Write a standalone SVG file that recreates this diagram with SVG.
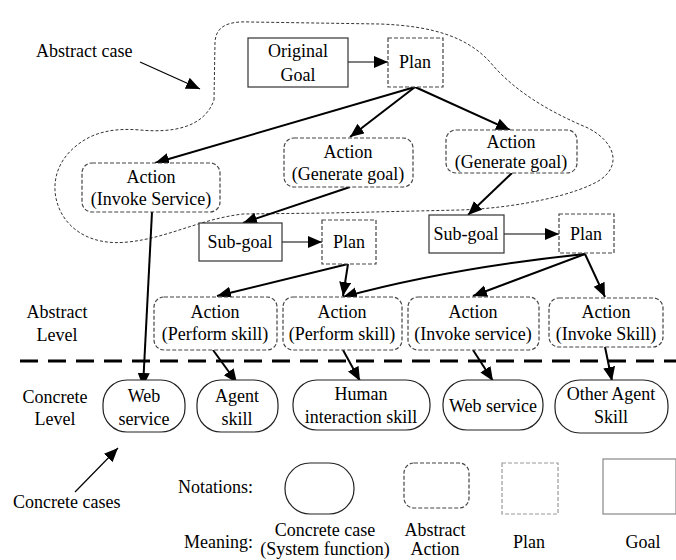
<svg xmlns="http://www.w3.org/2000/svg" width="676" height="560" viewBox="0 0 676 560" font-family="'Liberation Serif', 'DejaVu Serif', serif" font-size="18">
<defs>
<marker id="ah" markerUnits="userSpaceOnUse" markerWidth="15" markerHeight="13" refX="14" refY="6" orient="auto">
<path d="M0,0 L14,6 L0,12 Z" fill="#000"/>
</marker>
<style>
text{font-family:'Liberation Serif','DejaVu Serif',serif;font-size:18px;fill:#000;text-anchor:middle}
.l{text-anchor:start}
.goal{fill:#fff;stroke:#333;stroke-width:1.2}
.plan{fill:#fff;stroke:#444;stroke-width:1.2;stroke-dasharray:4,2}
.act{fill:#fff;stroke:#444;stroke-width:1.2;stroke-dasharray:4,2}
.conc{fill:#fff;stroke:#222;stroke-width:1.2}
.e{fill:none;stroke:#000;stroke-width:2;marker-end:url(#ah)}
.t{fill:none;stroke:#000;stroke-width:1.2;marker-end:url(#ah)}
</style>
</defs>
<rect width="676" height="560" fill="#fff"/>

<!-- abstract case cloud -->
<path d="M214,100 L215,42 C216,26 228,21 250,22 L380,24 C435,26 468,38 490,62 C515,92 550,112 588,128 C615,142 622,165 600,180 C578,194 520,208 460,210 L330,213 L243,214 C200,219 168,238 128,242 C92,246 68,230 59,208 C50,186 56,162 76,146 C94,131 116,128 140,130 C172,133 204,128 214,100 Z" fill="none" stroke="#333" stroke-width="1" stroke-dasharray="3,2"/>

<!-- level separator -->
<line x1="20" y1="361" x2="676" y2="361" stroke="#000" stroke-width="3" stroke-dasharray="18,10"/>

<g id="connectors">
<line class="t" x1="348" y1="62" x2="388" y2="62"/>
<line class="e" x1="415" y1="87" x2="155" y2="163"/>
<line class="e" x1="415" y1="87" x2="350" y2="137"/>
<line class="e" x1="415" y1="87" x2="510" y2="130"/>
<line class="e" x1="350" y1="187" x2="243" y2="223"/>
<line class="e" x1="512" y1="173" x2="468" y2="215"/>
<line class="t" x1="282" y1="242" x2="322" y2="242"/>
<line class="t" x1="504" y1="234" x2="559" y2="234"/>
<line class="e" x1="152" y1="212" x2="143" y2="387"/>
<line class="e" x1="348" y1="264" x2="217" y2="296"/>
<line class="e" x1="348" y1="264" x2="343" y2="296"/>
<path class="e" d="M585,254 Q450,268 343,297"/>
<line class="e" x1="585" y1="254" x2="473" y2="296"/>
<line class="e" x1="585" y1="254" x2="605" y2="297"/>
<line class="e" x1="213" y1="350" x2="237" y2="383"/>
<line class="e" x1="343" y1="350" x2="360" y2="381"/>
<line class="e" x1="473" y1="350" x2="493" y2="381"/>
<line class="e" x1="605" y1="347" x2="612" y2="381"/>
<line class="t" x1="140" y1="62" x2="200" y2="89"/>
<line class="t" x1="75" y1="492" x2="118" y2="448"/>
</g>

<g id="original-goal"><rect class="goal" x="248" y="38" width="100" height="49"/><text x="298" y="57">Original</text><text x="298" y="81">Goal</text></g>
<g id="plan-top"><rect class="plan" x="388" y="38" width="55" height="49"/><text x="415" y="68">Plan</text></g>
<g id="action-invoke-service"><rect class="act" x="82" y="163" width="138" height="49" rx="10"/><text x="151" y="183">Action</text><text x="151" y="205">(Invoke Service)</text></g>
<g id="action-generate-goal-1"><rect class="act" x="284" y="138" width="129" height="49" rx="10"/><text x="348" y="158">Action</text><text x="348" y="180">(Generate goal)</text></g>
<g id="action-generate-goal-2"><rect class="act" x="446" y="130" width="131" height="43" rx="10"/><text x="511" y="148">Action</text><text x="511" y="168">(Generate goal)</text></g>
<g id="subgoal-1"><rect class="goal" x="199" y="223" width="83" height="38"/><text x="240" y="248">Sub-goal</text></g>
<g id="plan-1"><rect class="plan" x="322" y="220" width="54" height="44"/><text x="349" y="248">Plan</text></g>
<g id="subgoal-2"><rect class="goal" x="429" y="215" width="75" height="38"/><text x="466" y="240">Sub-goal</text></g>
<g id="plan-2"><rect class="plan" x="559" y="214" width="55" height="39"/><text x="586" y="240">Plan</text></g>

<g id="action-perform-skill-1"><rect class="act" x="154" y="297" width="123" height="53" rx="10"/><text x="215" y="318">Action</text><text x="215" y="340">(Perform skill)</text></g>
<g id="action-perform-skill-2"><rect class="act" x="283" y="297" width="119" height="53" rx="10"/><text x="342" y="318">Action</text><text x="342" y="340">(Perform skill)</text></g>
<g id="action-invoke-service-2"><rect class="act" x="408" y="297" width="131" height="53" rx="10"/><text x="473" y="318">Action</text><text x="473" y="340">(Invoke service)</text></g>
<g id="action-invoke-skill"><rect class="act" x="549" y="298" width="114" height="49" rx="10"/><text x="606" y="318">Action</text><text x="606" y="340">(Invoke Skill)</text></g>

<g id="web-service-1"><rect class="conc" x="103" y="380" width="82" height="52" rx="24"/><text x="144" y="402">Web</text><text x="144" y="425">service</text></g>
<g id="agent-skill"><rect class="conc" x="197" y="380" width="81" height="52" rx="24"/><text x="237" y="402">Agent</text><text x="237" y="425">skill</text></g>
<g id="human-interaction-skill"><rect class="conc" x="293" y="380" width="137" height="50" rx="24"/><text x="361" y="400">Human</text><text x="361" y="423">interaction skill</text></g>
<g id="web-service-2"><rect class="conc" x="443" y="380" width="100" height="50" rx="24"/><text x="493" y="412">Web service</text></g>
<g id="other-agent-skill"><rect class="conc" x="555" y="380" width="113" height="53" rx="25"/><text x="611" y="400">Other Agent</text><text x="611" y="423">Skill</text></g>

<g id="labels">
<text class="l" x="36" y="57">Abstract case</text>
<text x="57" y="318">Abstract</text><text x="57" y="341">Level</text>
<text x="55" y="403">Concrete</text><text x="55" y="425">Level</text>
<text class="l" x="13" y="508">Concrete cases</text>
<text class="l" x="178" y="493">Notations:</text>
<text class="l" x="184" y="548">Meaning:</text>
</g>

<g id="notations">
<rect class="conc" x="285" y="463" width="69" height="51" rx="25"/>
<rect class="act" x="404" y="463" width="65" height="45" rx="10"/>
<rect x="502" y="463" width="56" height="51" fill="#fff" stroke="#999" stroke-width="1.2" stroke-dasharray="4,2"/>
<rect x="603" y="459" width="73" height="55" fill="#fff" stroke="#888" stroke-width="1.2"/>
<text x="325" y="536">Concrete case</text><text x="325" y="555">(System function)</text>
<text x="435" y="536">Abstract</text><text x="435" y="555">Action</text>
<text x="529" y="548">Plan</text>
<text x="643" y="548">Goal</text>
</g>
</svg>
